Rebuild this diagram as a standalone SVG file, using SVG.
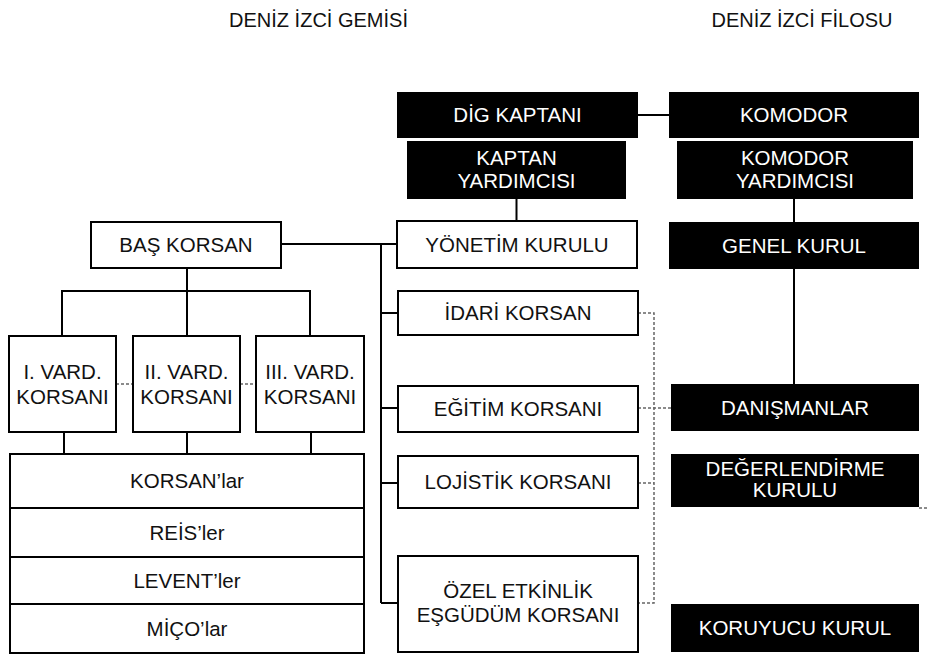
<svg xmlns="http://www.w3.org/2000/svg" width="929" height="655" viewBox="0 0 929 655">
<style>
.wb{fill:#fff;stroke:#000;stroke-width:2}
.bb{fill:#000;stroke:none}
.t{font-family:"Liberation Sans",Arial,sans-serif;font-size:20.5px;text-anchor:middle;fill:#111}
.tw{font-family:"Liberation Sans",Arial,sans-serif;font-size:20.5px;text-anchor:middle;fill:#fff}
.ttl{font-family:"Liberation Sans",Arial,sans-serif;font-size:20px;text-anchor:middle;fill:#111}
.ln{fill:none;stroke:#000;stroke-width:2}
.ds{fill:none;stroke:#666;stroke-width:1.5;stroke-dasharray:3,2}
</style>
<rect width="929" height="655" fill="#fff"/>
<g id="titles">
<text class="ttl" x="318.5" y="27">DENİZ İZCİ GEMİSİ</text>
<text class="ttl" x="802" y="27">DENİZ İZCİ FİLOSU</text>
</g>
<g id="connectors">
<path class="ln" d="M638 115H669"/>
<path class="ln" d="M516.5 199V221"/>
<path class="ln" d="M794 199V222"/>
<path class="ln" d="M794 269V384"/>
<path class="ln" d="M281 244H397"/>
<path class="ln" d="M381 244V603"/>
<path class="ln" d="M381 313H397M381 408H397M381 483H397M381 603H397"/>
<path class="ln" d="M187 268V291M62 291H311M62 290V336M187 291V336M310 290V336"/>
<path class="ln" d="M64 432V454M187 432V454M311 432V454"/>
<path class="ds" d="M116 384H133M240 384H256"/>
<path class="ds" d="M638 313H654V603H638"/>
<path class="ds" d="M638 408H671"/>
<path class="ds" d="M638 483H654"/>
<path class="ds" d="M919 508H929"/>
</g>
<g id="dig-kaptani"><rect class="bb" x="397" y="92" width="241" height="46"/><text class="tw" x="517.5" y="122">DİG KAPTANI</text></g>
<g id="komodor"><rect class="bb" x="669" y="92" width="250" height="46"/><text class="tw" x="794" y="122">KOMODOR</text></g>
<g id="kaptan-yardimcisi"><rect class="bb" x="407" y="141" width="219" height="58"/><text class="tw" x="516.5" y="165">KAPTAN</text><text class="tw" x="516.5" y="188">YARDIMCISI</text></g>
<g id="komodor-yardimcisi"><rect class="bb" x="677" y="141" width="236" height="58"/><text class="tw" x="795" y="165">KOMODOR</text><text class="tw" x="795" y="188">YARDIMCISI</text></g>
<g id="yonetim-kurulu"><rect class="wb" x="397" y="221" width="240" height="47"/><text class="t" x="517" y="252">YÖNETİM KURULU</text></g>
<g id="genel-kurul"><rect class="bb" x="669" y="222" width="250" height="47"/><text class="tw" x="794" y="253">GENEL KURUL</text></g>
<g id="bas-korsan"><rect class="wb" x="91" y="222" width="190" height="46"/><text class="t" x="186" y="252">BAŞ KORSAN</text></g>
<g id="idari-korsan"><rect class="wb" x="398" y="291" width="240" height="44"/><text class="t" x="518" y="320">İDARİ KORSAN</text></g>
<g id="egitim-korsani"><rect class="wb" x="398" y="386" width="240" height="46"/><text class="t" x="518" y="416">EĞİTİM KORSANI</text></g>
<g id="lojistik-korsani"><rect class="wb" x="398" y="456" width="240" height="52"/><text class="t" x="518" y="489">LOJİSTİK KORSANI</text></g>
<g id="ozel-etkinlik"><rect class="wb" x="398" y="556" width="240" height="96"/><text class="t" x="518" y="598">ÖZEL ETKİNLİK</text><text class="t" x="518" y="622">EŞGÜDÜM KORSANI</text></g>
<g id="danismanlar"><rect class="bb" x="671" y="384" width="248" height="47"/><text class="tw" x="795" y="415">DANIŞMANLAR</text></g>
<g id="degerlendirme-kurulu"><rect class="bb" x="671" y="454" width="248" height="53"/><text class="tw" x="795" y="476">DEĞERLENDİRME</text><text class="tw" x="795" y="497">KURULU</text></g>
<g id="koruyucu-kurul"><rect class="bb" x="671" y="604" width="248" height="48"/><text class="tw" x="795" y="635">KORUYUCU KURUL</text></g>
<g id="vard-1"><rect class="wb" x="9" y="336" width="107" height="96"/><text class="t" x="62.5" y="379">I. VARD.</text><text class="t" x="62.5" y="404">KORSANI</text></g>
<g id="vard-2"><rect class="wb" x="133" y="336" width="107" height="96"/><text class="t" x="186.5" y="379">II. VARD.</text><text class="t" x="186.5" y="404">KORSANI</text></g>
<g id="vard-3"><rect class="wb" x="256" y="336" width="108" height="96"/><text class="t" x="310" y="379">III. VARD.</text><text class="t" x="310" y="404">KORSANI</text></g>
<g id="korsanlar"><rect class="wb" x="10" y="454" width="354" height="54"/><text class="t" x="187" y="488">KORSAN’lar</text></g>
<g id="reisler"><rect class="wb" x="10" y="508" width="354" height="49"/><text class="t" x="187" y="540">REİS’ler</text></g>
<g id="leventler"><rect class="wb" x="10" y="557" width="354" height="47"/><text class="t" x="187" y="588">LEVENT’ler</text></g>
<g id="micolar"><rect class="wb" x="10" y="604" width="354" height="49"/><text class="t" x="187" y="636">MİÇO’lar</text></g>
</svg>
